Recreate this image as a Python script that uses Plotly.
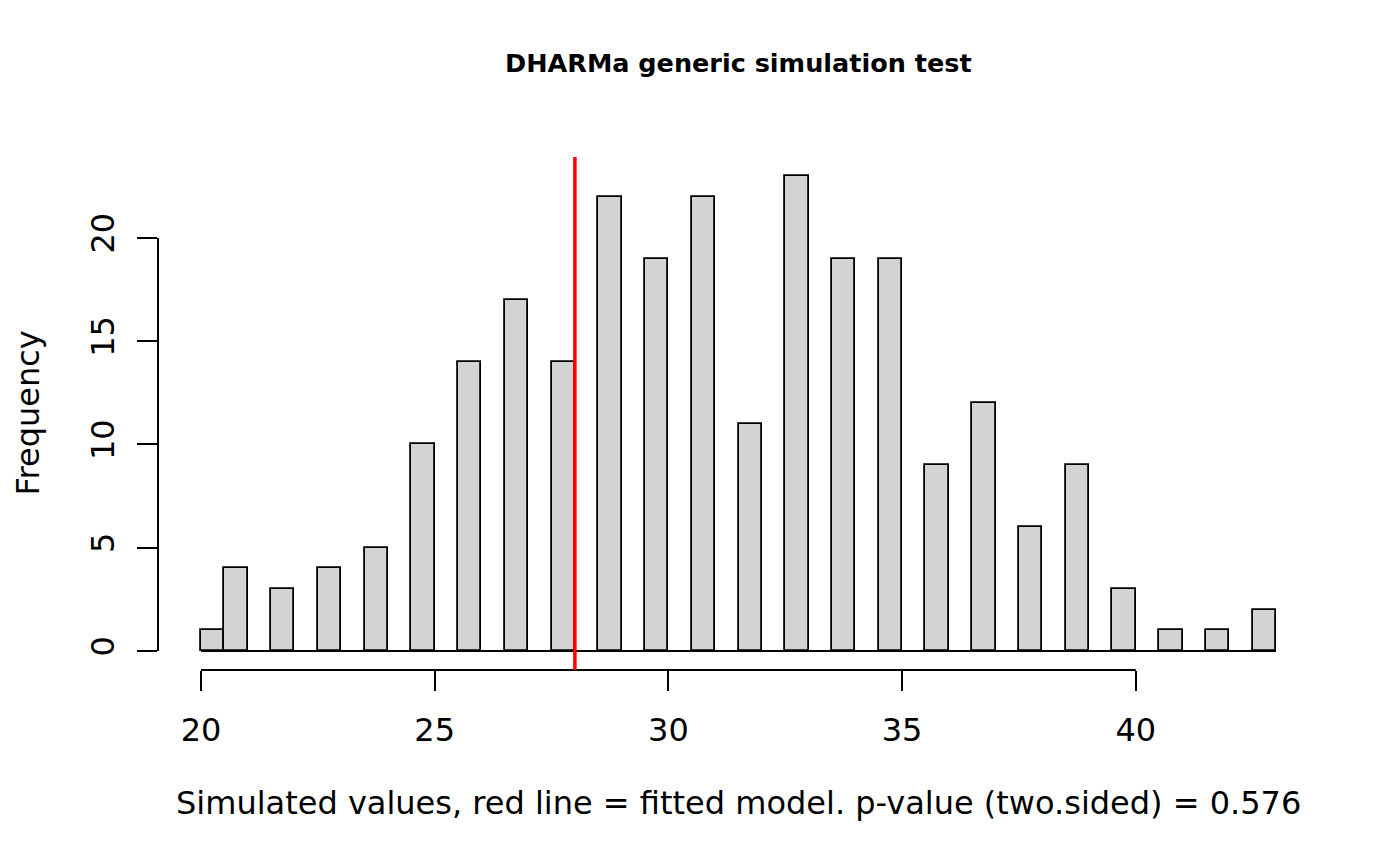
import plotly.graph_objects as go

# simulated values (integers) and how often each occurred
sim_values = [20, 21, 22, 23, 24, 25, 26, 27, 28, 29, 30, 31,
              32, 33, 34, 35, 36, 37, 38, 39, 40, 41, 42, 43]
frequency = [1, 4, 3, 4, 5, 10, 14, 17, 14, 22, 19, 22,
             11, 23, 19, 19, 9, 12, 6, 9, 3, 1, 1, 2]
fitted_value = 28
x_ticks = [20, 25, 30, 35, 40]
y_ticks = [0, 5, 10, 15, 20]
bin_width = 0.5

# R style bins: [20, 20.5], (20.5, 21], (21.5, 22] ...
first = sim_values[0]
centers = [(v + bin_width / 2) if v == first else (v - bin_width / 2) for v in sim_values]

lo, hi = first, sim_values[-1]
ymax = max(frequency)
xpad = (hi - lo) * 0.04
ypad = ymax * 0.04

font = "DejaVu Sans"

fig = go.Figure()
fig.add_trace(go.Bar(x=centers, y=frequency, width=[bin_width] * len(centers),
                     marker=dict(color="#D3D3D3", line=dict(color="black", width=1.8)),
                     showlegend=False))

shapes = [
    # baseline of empty bins
    dict(type="line", xref="x", yref="y", x0=lo, x1=hi, y0=0, y1=0,
         line=dict(color="black", width=1.8), layer="below"),
    # axis lines spanning only the tick range (R style)
    dict(type="line", xref="paper", yref="y", x0=0, x1=0, y0=y_ticks[0], y1=y_ticks[-1],
         line=dict(color="black", width=2)),
    dict(type="line", xref="x", yref="paper", x0=x_ticks[0], x1=x_ticks[-1], y0=0, y1=0,
         line=dict(color="black", width=2)),
    # red line = fitted model
    dict(type="line", xref="x", yref="paper", x0=fitted_value, x1=fitted_value, y0=0, y1=1,
         line=dict(color="red", width=3.5)),
]

layout = go.Layout(
    width=1400, height=866,
    margin=dict(l=150, r=89, t=149, b=204),
    plot_bgcolor="white", paper_bgcolor="white",
    font=dict(family=font, size=32, color="black"),
    bargap=0,
    shapes=shapes,
    xaxis=dict(range=[lo - xpad, hi + xpad], tickvals=x_ticks, ticks="outside",
               ticklen=20, tickwidth=2, tickcolor="black", showgrid=False,
               zeroline=False, showline=False, ticklabelstandoff=12,
               tickfont=dict(size=32)),
    yaxis=dict(range=[-ypad, ymax + ypad], tickvals=y_ticks, ticks="outside",
               ticklen=20, tickwidth=2, tickcolor="black", showgrid=False,
               zeroline=False, showline=False, tickangle=-90, ticklabelstandoff=10,
               tickfont=dict(size=32)),
    annotations=[
        dict(text="<b>DHARMa generic simulation test</b>", xref="paper", yref="paper",
             x=0.5, y=1, yshift=94, showarrow=False, font=dict(size=25.5),
             xanchor="center", yanchor="middle"),
        dict(text="Simulated values, red line = fitted model. p-value (two.sided) = 0.576",
             xref="paper", yref="paper", x=0.5, y=0, yshift=-133, showarrow=False,
             xanchor="center", yanchor="middle", font=dict(size=32)),
        dict(text="Frequency", xref="paper", yref="paper", x=0, y=0.5, xshift=-131,
             textangle=-90, showarrow=False, xanchor="center", yanchor="middle",
             font=dict(size=32)),
    ],
)
fig.update_layout(layout)

fig.write_html("out.html")
